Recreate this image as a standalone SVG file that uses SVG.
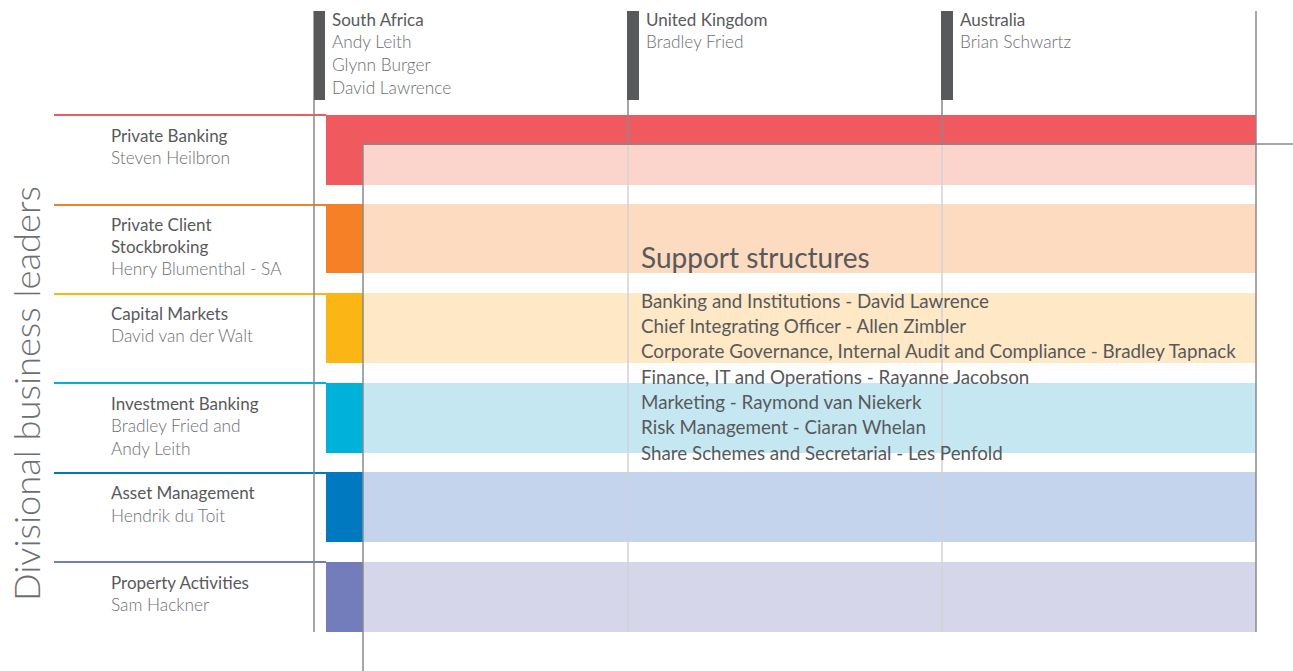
<svg xmlns="http://www.w3.org/2000/svg" width="1293" height="671" viewBox="0 0 1293 671">
  <style>
    text { font-family: Lato, "Open Sans", "Liberation Sans", sans-serif; }
    .t { font-size: 17px; fill: #58595b; }
    .n { font-size: 17.3px; fill: #6d6e71; font-weight: 300; }
    .h { font-size: 17px; fill: #58595b; }
    .s { font-size: 18.8px; fill: #58595b; }
    .grid { stroke: #88888b; stroke-width: 1.5; fill: none; }
    .gridlt { stroke: #d2d2d4; stroke-width: 1.5; fill: none; }
    .bar { fill: #58595b; }
  </style>

  <rect width="1293" height="671" fill="#ffffff"/>

  <!-- division bands: accent strip + light body -->
  <g id="band-private-banking">
    <line x1="54" y1="115" x2="326" y2="115" stroke="#f05a5f" stroke-width="2"/>
    <rect x="326" y="115" width="930" height="30" fill="#f05a5f"/>
    <rect x="326" y="145" width="37" height="40" fill="#f05a5f"/>
    <rect x="363" y="145" width="893" height="40" fill="#fbd5cc"/>
    <text class="t" x="111" y="142">Private Banking</text>
    <text class="n" x="111" y="164">Steven Heilbron</text>
  </g>
  <g id="band-private-client">
    <line x1="54" y1="205" x2="326" y2="205" stroke="#f58025" stroke-width="2"/>
    <rect x="326" y="204" width="37" height="69" fill="#f58025"/>
    <rect x="363" y="204" width="893" height="69" fill="#fddbc0"/>
    <text class="t" x="111" y="231">Private Client</text>
    <text class="t" x="111" y="253">Stockbroking</text>
    <text class="n" x="111" y="275">Henry Blumenthal - SA</text>
  </g>
  <g id="band-capital-markets">
    <line x1="54" y1="294" x2="326" y2="294" stroke="#fbb615" stroke-width="2"/>
    <rect x="326" y="293" width="37" height="70" fill="#fbb615"/>
    <rect x="363" y="293" width="893" height="70" fill="#fee8c6"/>
    <text class="t" x="111" y="320">Capital Markets</text>
    <text class="n" x="111" y="342">David van der Walt</text>
  </g>
  <g id="band-investment-banking">
    <line x1="54" y1="383" x2="326" y2="383" stroke="#00b2d9" stroke-width="2"/>
    <rect x="326" y="383" width="37" height="70" fill="#00b2d9"/>
    <rect x="363" y="383" width="893" height="70" fill="#c5e7f2"/>
    <text class="t" x="111" y="410">Investment Banking</text>
    <text class="n" x="111" y="432">Bradley Fried and</text>
    <text class="n" x="111" y="455">Andy Leith</text>
  </g>
  <g id="band-asset-management">
    <line x1="54" y1="473" x2="326" y2="473" stroke="#0079c1" stroke-width="2"/>
    <rect x="326" y="472" width="37" height="70" fill="#0079c1"/>
    <rect x="363" y="472" width="893" height="70" fill="#c3d4ec"/>
    <text class="t" x="111" y="499">Asset Management</text>
    <text class="n" x="111" y="522">Hendrik du Toit</text>
  </g>
  <g id="band-property">
    <line x1="54" y1="562" x2="326" y2="562" stroke="#737dbb" stroke-width="2"/>
    <rect x="326" y="562" width="37" height="70" fill="#737dbb"/>
    <rect x="363" y="562" width="893" height="70" fill="#d5d6ea"/>
    <text class="t" x="111" y="589">Property Activities</text>
    <text class="n" x="111" y="611">Sam Hackner</text>
  </g>

  <!-- grid lines -->
  <g id="connectors">
    <line class="grid" x1="314" y1="11" x2="314" y2="632"/>
    <line class="grid" x1="628" y1="11" x2="628" y2="145"/>
    <line class="gridlt" x1="628" y1="145" x2="628" y2="632"/>
    <line class="grid" x1="942" y1="11" x2="942" y2="145"/>
    <line class="gridlt" x1="942" y1="145" x2="942" y2="632"/>
    <line class="grid" x1="1256" y1="11" x2="1256" y2="632"/>
    <line class="grid" x1="363" y1="144" x2="1293" y2="144"/>
    <line class="grid" x1="363" y1="144" x2="363" y2="671"/>
  </g>

  <!-- regional leaders -->
  <g id="region-south-africa">
    <rect class="bar" x="314" y="11" width="11" height="89"/>
    <text class="h" x="332" y="26">South Africa</text>
    <text class="n" x="332" y="48">Andy Leith</text>
    <text class="n" x="332" y="71">Glynn Burger</text>
    <text class="n" x="332" y="94">David Lawrence</text>
  </g>
  <g id="region-united-kingdom">
    <rect class="bar" x="627" y="11" width="12" height="89"/>
    <text class="h" x="646" y="26">United Kingdom</text>
    <text class="n" x="646" y="48">Bradley Fried</text>
  </g>
  <g id="region-australia">
    <rect class="bar" x="941" y="11" width="12" height="89"/>
    <text class="h" x="960" y="26">Australia</text>
    <text class="n" x="960" y="48">Brian Schwartz</text>
  </g>

  <!-- support structures list -->
  <g id="support-structures">
    <text x="641" y="268" style="font-size:28px; fill:#58595b;">Support structures</text>
    <text class="s" x="641" y="308">Banking and Institutions - David Lawrence</text>
    <text class="s" x="641" y="333">Chief Integrating Officer - Allen Zimbler</text>
    <text class="s" x="641" y="358">Corporate Governance, Internal Audit and Compliance - Bradley Tapnack</text>
    <text class="s" x="641" y="384">Finance, IT and Operations - Rayanne Jacobson</text>
    <text class="s" x="641" y="409">Marketing - Raymond van Niekerk</text>
    <text class="s" x="641" y="434">Risk Management - Ciaran Whelan</text>
    <text class="s" x="641" y="460">Share Schemes and Secretarial - Les Penfold</text>
  </g>

  <g id="axis-title">
    <text transform="translate(40,601) rotate(-90)" textLength="415" lengthAdjust="spacingAndGlyphs" style="font-size:35px; fill:#6d6e71; font-weight:300;">Divisional business leaders</text>
  </g>
</svg>
